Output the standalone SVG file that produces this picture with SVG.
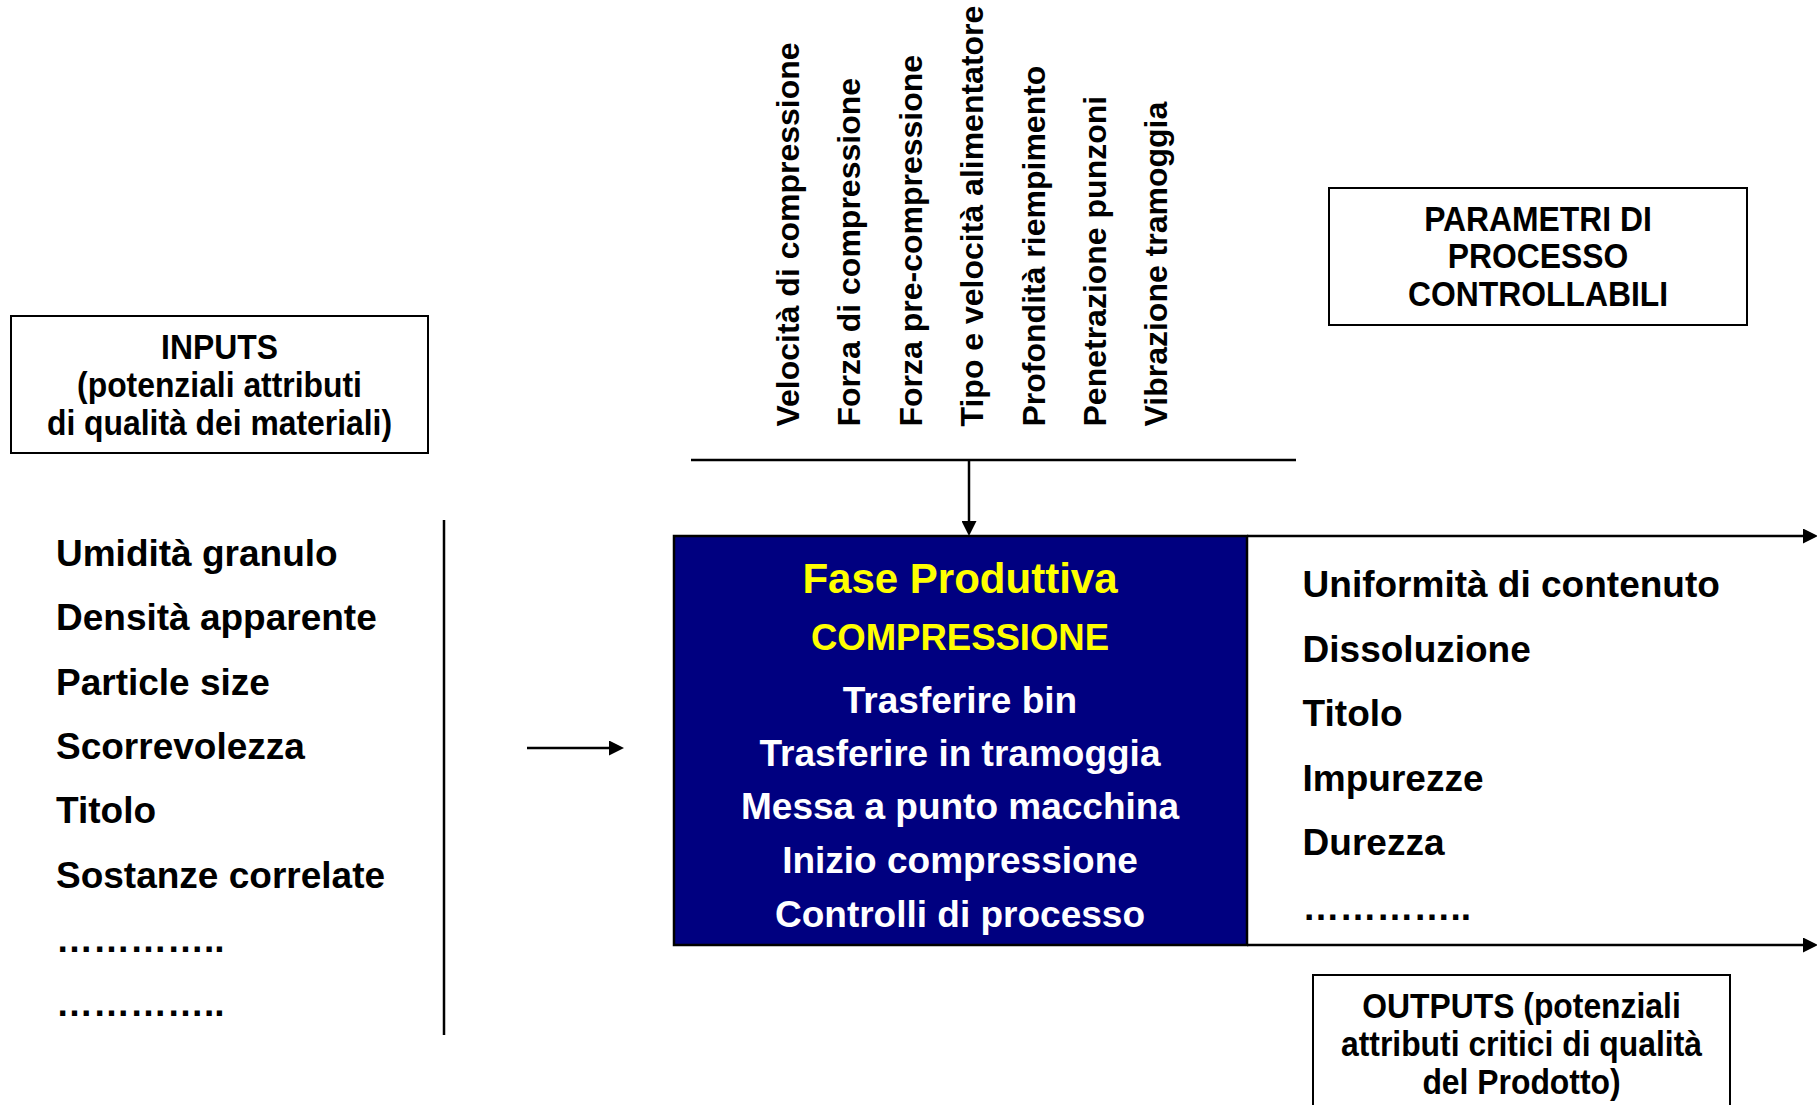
<svg xmlns="http://www.w3.org/2000/svg" width="1817" height="1105" viewBox="0 0 1817 1105">
  <style>
    text { font-family: "Liberation Sans", Arial, sans-serif; font-weight: bold; }
    .lbl { font-size: 36px; fill: #000; text-anchor: middle; }
    .param { font-size: 32px; fill: #000; }
    .item { font-size: 37px; fill: #000; }
    .step { font-size: 37px; fill: #fff; text-anchor: middle; }
    .title { fill: #ff0; text-anchor: middle; }
    .frame { fill: #fff; stroke: #000; stroke-width: 2; }
    .wire { stroke: #000; stroke-width: 2.5; fill: none; }
  </style>
  <defs>
    <marker id="arrow" viewBox="0 0 15 15" refX="0" refY="7.5" markerWidth="15" markerHeight="15" markerUnits="userSpaceOnUse" orient="auto">
      <path d="M0,0 L15,7.5 L0,15 z" fill="#000"/>
    </marker>
  </defs>
  <rect width="1817" height="1105" fill="#fff"/>

  <!-- Inputs label -->
  <g id="inputs-label">
    <rect class="frame" x="11" y="316" width="417" height="137"/>
    <text class="lbl" transform="translate(219.5,358.5) scale(0.885,1)">INPUTS</text>
    <text class="lbl" transform="translate(219.5,396.5) scale(0.885,1)">(potenziali attributi</text>
    <text class="lbl" transform="translate(219.5,434.5) scale(0.885,1)">di qualità dei materiali)</text>
  </g>

  <!-- Material attributes list -->
  <g id="inputs-list">
    <text class="item" x="56" y="566">Umidità granulo</text>
    <text class="item" x="56" y="630.3">Densità apparente</text>
    <text class="item" x="56" y="694.6">Particle size</text>
    <text class="item" x="56" y="758.9">Scorrevolezza</text>
    <text class="item" x="56" y="823.2">Titolo</text>
    <text class="item" x="56" y="887.5">Sostanze correlate</text>
    <text class="item" x="56" y="951.8">…………..</text>
    <text class="item" x="56" y="1016">…………..</text>
  </g>

  <!-- Controllable process parameters (vertical) -->
  <g id="parameters">
    <text class="param" transform="translate(799,426.5) rotate(-90)">Velocità di compressione</text>
    <text class="param" transform="translate(860.4,426.5) rotate(-90)">Forza di compressione</text>
    <text class="param" transform="translate(921.8,426.5) rotate(-90)">Forza pre-compressione</text>
    <text class="param" transform="translate(983.2,426.5) rotate(-90)">Tipo e velocità alimentatore</text>
    <text class="param" transform="translate(1044.6,426.5) rotate(-90)">Profondità riempimento</text>
    <text class="param" transform="translate(1106,426.5) rotate(-90)">Penetrazione punzoni</text>
    <text class="param" transform="translate(1167.4,426.5) rotate(-90)">Vibrazione tramoggia</text>
  </g>

  <!-- Parameters label -->
  <g id="parameters-label">
    <rect class="frame" x="1329" y="188" width="418" height="137"/>
    <text class="lbl" transform="translate(1538,231) scale(0.885,1)">PARAMETRI DI</text>
    <text class="lbl" transform="translate(1538,268) scale(0.885,1)">PROCESSO</text>
    <text class="lbl" transform="translate(1538,306) scale(0.885,1)">CONTROLLABILI</text>
  </g>

  <!-- Production step -->
  <g id="process">
    <rect x="674" y="536" width="573" height="409" fill="#000080" stroke="#000" stroke-width="2.5"/>
    <text class="title" x="960" y="593" font-size="42">Fase Produttiva</text>
    <text class="title" x="960" y="649.5" font-size="36.5">COMPRESSIONE</text>
    <text class="step" x="960" y="712.5">Trasferire bin</text>
    <text class="step" x="960" y="765.5">Trasferire in tramoggia</text>
    <text class="step" x="960" y="819">Messa a punto macchina</text>
    <text class="step" x="960" y="872.5">Inizio compressione</text>
    <text class="step" x="960" y="926.5">Controlli di processo</text>
  </g>

  <!-- Product quality attributes list -->
  <g id="outputs-list">
    <text class="item" x="1302.6" y="597">Uniformità di contenuto</text>
    <text class="item" x="1302.6" y="661.6">Dissoluzione</text>
    <text class="item" x="1302.6" y="726.2">Titolo</text>
    <text class="item" x="1302.6" y="790.8">Impurezze</text>
    <text class="item" x="1302.6" y="855.4">Durezza</text>
    <text class="item" x="1302.6" y="920">…………..</text>
  </g>

  <!-- Outputs label -->
  <g id="outputs-label">
    <rect class="frame" x="1313" y="975" width="417" height="140"/>
    <text class="lbl" transform="translate(1521.5,1018) scale(0.885,1)">OUTPUTS (potenziali</text>
    <text class="lbl" transform="translate(1521.5,1056) scale(0.885,1)">attributi critici di qualità</text>
    <text class="lbl" transform="translate(1521.5,1094) scale(0.885,1)">del Prodotto)</text>
  </g>

  <!-- Connectors -->
  <g id="connectors">
    <line class="wire" x1="444" y1="520" x2="444" y2="1035"/>
    <line class="wire" x1="527" y1="748" x2="609" y2="748" marker-end="url(#arrow)"/>
    <line class="wire" x1="691" y1="460" x2="1296" y2="460"/>
    <line class="wire" x1="969" y1="460" x2="969" y2="521" marker-end="url(#arrow)"/>
    <line class="wire" x1="1247" y1="536" x2="1803" y2="536" marker-end="url(#arrow)"/>
    <line class="wire" x1="1247" y1="945" x2="1803" y2="945" marker-end="url(#arrow)"/>
  </g>
</svg>
